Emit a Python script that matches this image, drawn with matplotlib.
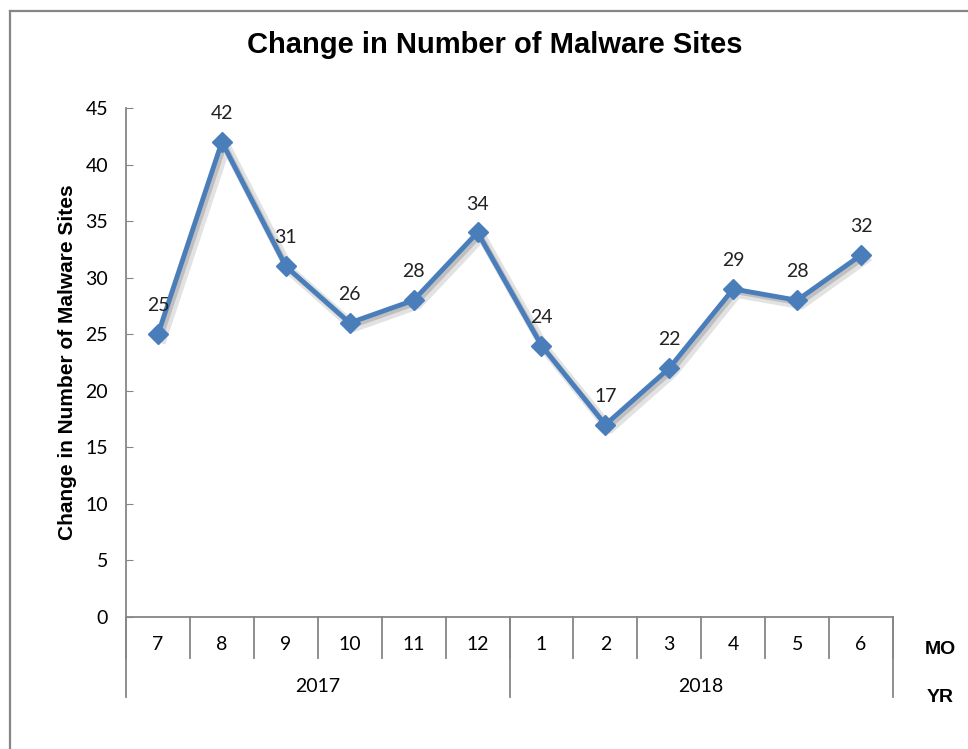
import matplotlib
matplotlib.use("Agg")
import matplotlib.pyplot as plt
import matplotlib.patheffects as pe
from matplotlib.lines import Line2D
import numpy as np

# data
months = ["7", "8", "9", "10", "11", "12", "1", "2", "3", "4", "5", "6"]
years = ["2017", "2018"]
months_per_year = [6, 6]
values = [25, 42, 31, 26, 28, 34, 24, 17, 22, 29, 28, 32]

LINE_BLUE = "#4A7EBB"
AXIS_GRAY = "#868686"
NUM_FONT = ["Lato", "DejaVu Sans"]
BOLD_FONT = ["Liberation Sans", "DejaVu Sans"]

W, H = 968, 749


def fx(px):
    return px / W


def fy(py):
    return 1 - py / H


fig = plt.figure(figsize=(W / 100, H / 100), dpi=100)
fig.patch.set_facecolor("white")

# outer chart border (only left and top visible in the crop)
fig.add_artist(Line2D([fx(9.5), fx(9.5)], [fy(11), 0], color=AXIS_GRAY, lw=1.6))
fig.add_artist(Line2D([fx(9.5), 1], [fy(11), fy(11)], color=AXIS_GRAY, lw=1.6))

ax_left, ax_right, ax_top, ax_bottom = 126, 893, 108, 617
ax = fig.add_axes([fx(ax_left), fy(ax_bottom), fx(ax_right - ax_left), (ax_bottom - ax_top) / H])
ax.set_xlim(-0.5, len(months) - 0.5)
ax.set_ylim(0, 45)

x = np.arange(len(months))
# soft shadow under the series
ax.plot(x, values, color=LINE_BLUE, lw=3.5, zorder=2, alpha=0,
        path_effects=[pe.SimpleLineShadow(offset=(3, -3), shadow_color="#a0a0a0", alpha=0.3, linewidth=7),
                      pe.SimpleLineShadow(offset=(2, -2), shadow_color="#808080", alpha=0.35)])
ax.plot(x, values, color=LINE_BLUE, lw=3.5, marker="D", markersize=10,
        solid_joinstyle="miter", zorder=3)

for xi, v in zip(x, values):
    ax.annotate(str(v), (xi, v), xytext=(0, 16.5), textcoords="offset points",
                ha="center", va="baseline", fontsize=14, family=NUM_FONT, color="#222222")

# y axis
ax.set_yticks(np.arange(0, 46, 5))
ax.tick_params(axis="y", direction="in", length=5, color=AXIS_GRAY, labelsize=14, pad=13)
for lab in ax.get_yticklabels():
    lab.set_family(NUM_FONT)
ax.set_xticks([])
for s in ["top", "right"]:
    ax.spines[s].set_visible(False)
for s in ["left", "bottom"]:
    ax.spines[s].set_color(AXIS_GRAY)
    ax.spines[s].set_linewidth(1.3)

ax.set_ylabel("Change in Number of Malware Sites", fontsize=15, fontweight="bold",
              family=BOLD_FONT, labelpad=6)

# multi-level category axis
axis_h = ax_bottom - ax_top
mo_depth = -(658 - ax_bottom) / axis_h
yr_depth = -(697 - ax_bottom) / axis_h
trans = ax.get_xaxis_transform()

for i in range(len(months) + 1):
    ax.plot([i - 0.5, i - 0.5], [0, mo_depth], transform=trans, color=AXIS_GRAY,
            lw=1.3, clip_on=False)
for i, m in enumerate(months):
    ax.text(i, -(645 - ax_bottom) / axis_h, m, transform=trans, ha="center", va="center",
            fontsize=14, family=NUM_FONT)

edges = np.concatenate([[0], np.cumsum(months_per_year)]) - 0.5
for e in edges:
    ax.plot([e, e], [0, yr_depth], transform=trans, color=AXIS_GRAY, lw=1.3, clip_on=False)
for yr, a, b in zip(years, edges[:-1], edges[1:]):
    ax.text((a + b) / 2, -(686 - ax_bottom) / axis_h, yr, transform=trans, ha="center",
            va="center", fontsize=14, family=NUM_FONT)

fig.text(fx(940), fy(649), "MO", ha="center", va="center", fontsize=14,
         fontweight="bold", family=BOLD_FONT)
fig.text(fx(940), fy(697), "YR", ha="center", va="center", fontsize=14,
         fontweight="bold", family=BOLD_FONT)

fig.text(fx(495), fy(45), "Change in Number of Malware Sites", ha="center", va="center",
         fontsize=21, fontweight="bold", family=BOLD_FONT)

fig.savefig("out.png", dpi=100)
